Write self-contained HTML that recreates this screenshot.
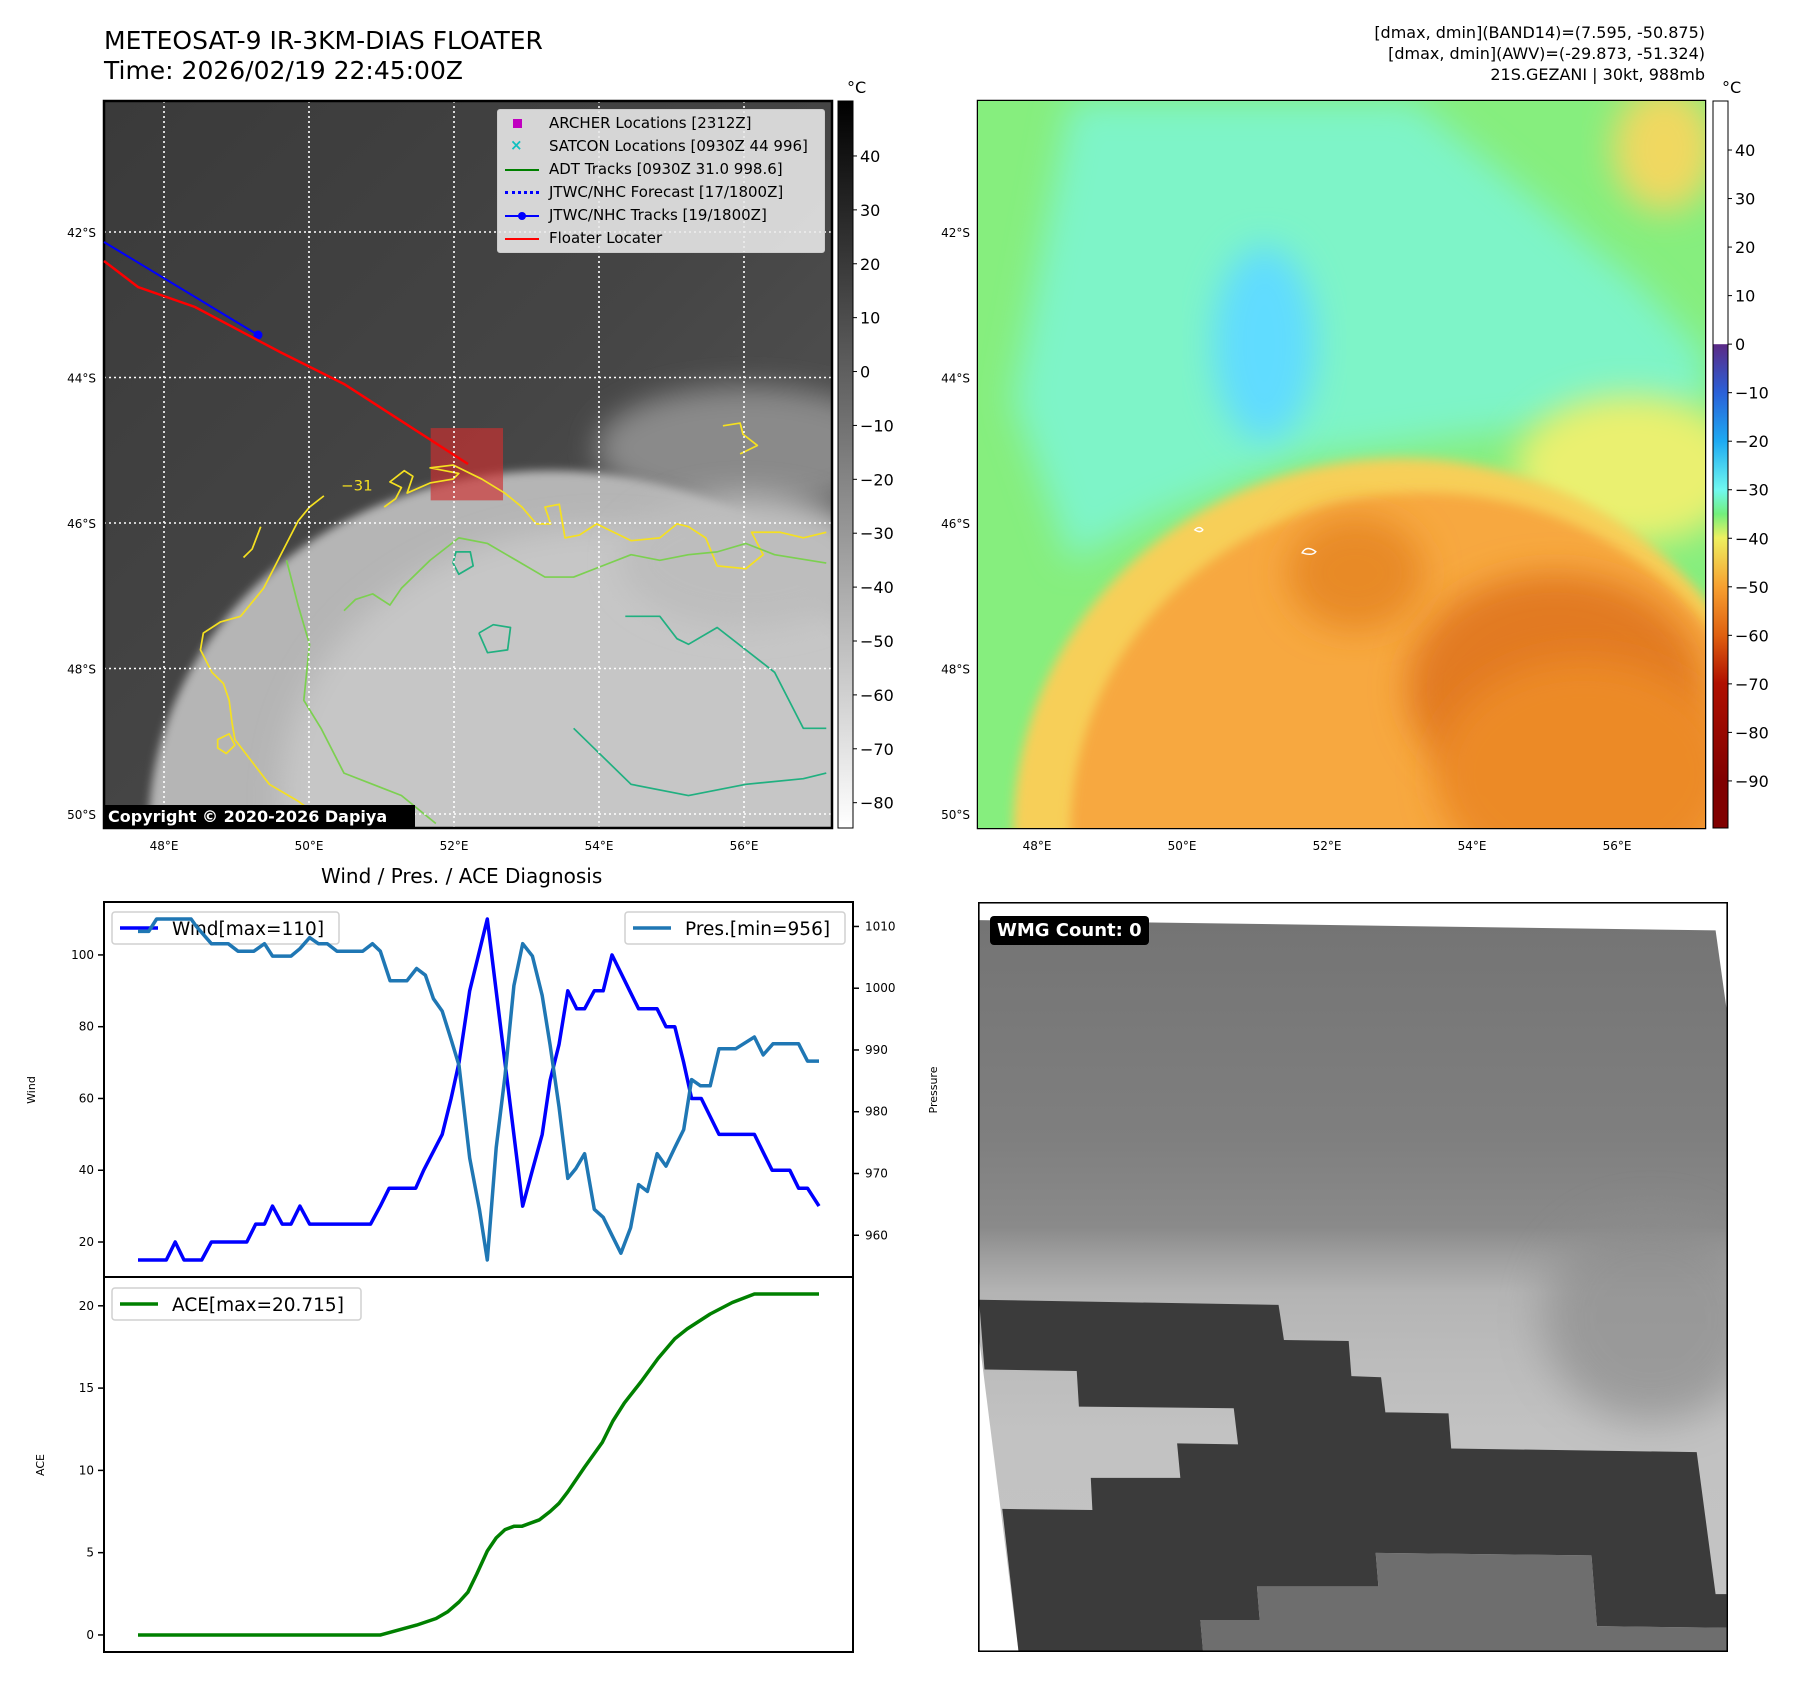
<!DOCTYPE html>
<html><head><meta charset="utf-8">
<style>
body{margin:0;background:#fff;}
#root{position:relative;width:1797px;height:1690px;background:#fff;font-family:"DejaVu Sans","Liberation Sans",sans-serif;overflow:hidden;}
.t{position:absolute;white-space:nowrap;color:#000;}
svg{position:absolute;}
</style></head><body>
<div id="root">
<div class="t" style="left:104px;top:26px;font-size:25px;line-height:30px;">METEOSAT-9 IR-3KM-DIAS FLOATER<br>Time: 2026/02/19 22:45:00Z</div>
<div class="t" style="right:92px;top:22px;font-size:16px;line-height:21px;text-align:right;">[dmax, dmin](BAND14)=(7.595, -50.875)<br>[dmax, dmin](AWV)=(-29.873, -51.324)<br>21S.GEZANI | 30kt, 988mb</div>
<div class="t" style="left:847px;top:78px;font-size:16px;">°C</div>
<div class="t" style="left:1722px;top:78px;font-size:16px;">°C</div>
<div class="t" style="left:321px;top:864px;font-size:20px;">Wind / Pres. / ACE Diagnosis</div>

<!-- Left IR map -->
<svg style="left:104px;top:101px" width="728" height="727" viewBox="182 180 1268 1298" preserveAspectRatio="none">
<defs>
<filter id="b1" x="-30%" y="-30%" width="160%" height="160%"><feGaussianBlur stdDeviation="25"/></filter>
<filter id="b2" x="-30%" y="-30%" width="160%" height="160%"><feGaussianBlur stdDeviation="8"/></filter>
<linearGradient id="irbg" x1="0" y1="0" x2="1" y2="1"><stop offset="0" stop-color="#3a3a3a"/><stop offset="0.5" stop-color="#454545"/><stop offset="1" stop-color="#5a5a5a"/></linearGradient>
</defs>
<rect x="182" y="180" width="1268" height="1298" fill="url(#irbg)"/>
<ellipse cx="1300" cy="800" rx="260" ry="110" fill="#8a8a8a" filter="url(#b1)"/>
<ellipse cx="960" cy="1480" rx="700" ry="640" fill="#b5b5b5" filter="url(#b2)"/>
<ellipse cx="1050" cy="1420" rx="560" ry="480" fill="#c6c6c6" filter="url(#b1)"/>
<ellipse cx="1300" cy="1000" rx="220" ry="120" fill="#bdbdbd" filter="url(#b1)"/>
<rect x="751" y="764" width="126" height="129" fill="#d03030" opacity="0.65"/>
<g fill="none" stroke-width="3" stroke-linejoin="round">
<path stroke="#f5e020" d="M565,885 L540,905 520,930 505,960 490,990 475,1020 460,1050 440,1075 420,1100 385,1110 355,1130 350,1160 370,1200 390,1220 400,1250 405,1290 410,1320 440,1360 470,1400 520,1430 560,1460 580,1478"/>
<path stroke="#f5e020" d="M670,905 L690,890 700,870 680,860 705,840 720,850 710,880 750,862 790,855 800,845 750,835 790,830 840,855 880,880 910,905 935,935 960,935 950,905 975,900 985,960 1010,955 1040,935 1060,945 1100,965 1150,960 1180,935 1200,940 1230,960 1250,1010 1300,1015 1330,990 1310,950 1360,950 1400,960 1440,950"/>
<path stroke="#f5e020" d="M1260,760 L1290,755 1295,775 1320,795 1290,810"/>
<path stroke="#f5e020" d="M455,940 L440,980 425,995"/>
<path stroke="#f5e020" d="M380,1320 L400,1310 410,1330 395,1345 380,1335Z"/>
<path stroke="#7cd050" d="M500,1000 L510,1040 520,1080 540,1150 530,1250 560,1300 600,1380 650,1400 700,1420 760,1470"/>
<path stroke="#7cd050" d="M600,1090 L620,1070 650,1060 680,1080 700,1050 750,1000 800,960 850,970 900,1000 950,1030 1000,1030 1050,1010 1100,990 1150,1000 1200,990 1250,985 1300,970 1350,990 1440,1005"/>
<path stroke="#20b080" d="M1090,1100 L1150,1100 1180,1140 1200,1150 1250,1120 1300,1160 1350,1200 1400,1300 1440,1300"/>
<path stroke="#20b080" d="M1000,1300 L1050,1350 1100,1400 1200,1420 1300,1400 1400,1390 1440,1380"/>
<path stroke="#20b080" d="M835,1130 L860,1115 890,1120 885,1160 850,1165 835,1130"/>
<path stroke="#20b080" d="M795,985 L820,985 825,1010 800,1025 790,1005Z"/>
</g>
<text x="595" y="875" fill="#f5e020" font-size="26" font-family="DejaVu Sans">−31</text>
</svg>
<svg style="left:0;top:0" width="1797" height="1690" id="ov"></svg>

<!-- Right AWV map -->
<svg style="left:978px;top:101px" width="727" height="727" viewBox="138 177 1274 1268" preserveAspectRatio="none">
<defs>
<filter id="c1" x="-30%" y="-30%" width="160%" height="160%"><feGaussianBlur stdDeviation="30"/></filter>
<filter id="c2" x="-30%" y="-30%" width="160%" height="160%"><feGaussianBlur stdDeviation="10"/></filter>
</defs>
<rect x="138" y="177" width="1274" height="1268" fill="#86ee7e"/>
<path d="M300,177 L900,177 1300,500 1412,620 1412,720 1000,760 700,800 450,900 300,980 200,700 Z" fill="#7ef4c8" filter="url(#c1)"/>
<ellipse cx="640" cy="600" rx="90" ry="170" fill="#60dcff" filter="url(#c1)"/>
<ellipse cx="1280" cy="820" rx="200" ry="130" fill="#eaf070" filter="url(#c1)"/>
<ellipse cx="1340" cy="260" rx="90" ry="110" fill="#f0d860" filter="url(#c1)"/>
<ellipse cx="880" cy="1450" rx="680" ry="650" fill="#f7cf58" filter="url(#c2)"/>
<ellipse cx="920" cy="1450" rx="620" ry="590" fill="#f7a840" filter="url(#c2)"/>
<ellipse cx="1150" cy="1200" rx="260" ry="200" fill="#e27a20" filter="url(#c1)"/>
<ellipse cx="800" cy="1000" rx="120" ry="100" fill="#e88a28" filter="url(#c1)"/>
<ellipse cx="1200" cy="1350" rx="260" ry="200" fill="#ec8a28" filter="url(#c1)"/>
<path d="M518,925 q8,-8 14,0 q-4,6 -14,0Z M706,965 q8,-14 24,-2 q-6,8 -24,2Z" fill="none" stroke="#fff" stroke-width="2.5"/>
</svg>

<!-- Bottom right WMG panel -->
<svg style="left:978px;top:902px" width="750" height="750" viewBox="53 45 1390 1452" preserveAspectRatio="none">
<defs><linearGradient id="wg" x1="0" y1="0" x2="0" y2="1">
<stop offset="0" stop-color="#747474"/><stop offset="0.3" stop-color="#7f7f7f"/><stop offset="0.42" stop-color="#8a8a8a"/><stop offset="0.46" stop-color="#9e9e9e"/><stop offset="0.51" stop-color="#b4b4b4"/><stop offset="0.58" stop-color="#bababa"/><stop offset="0.7" stop-color="#c2c2c2"/><stop offset="1" stop-color="#c4c4c4"/></linearGradient>
<filter id="wb" x="-30%" y="-30%" width="160%" height="160%"><feGaussianBlur stdDeviation="40"/></filter></defs>
<rect x="53" y="45" width="1390" height="1452" fill="#fff"/>
<path d="M55,80 L1420,100 1440,250 1440,1495 128,1495 55,890 Z" fill="url(#wg)"/>
<ellipse cx="1300" cy="850" rx="200" ry="200" fill="#8c8c8c" filter="url(#wb)" opacity="0.7"/>
<path d="M55,815 L610,825 620,893 740,895 745,963 800,965 808,1033 925,1035 930,1103 1385,1110 1420,1385 1440,1385 1440,1450 1200,1447 1190,1310 790,1305 795,1370 570,1370 575,1435 465,1435 470,1495 128,1495 98,1220 265,1222 262,1160 428,1160 422,1093 535,1095 527,1025 240,1022 236,953 65,950 Z" fill="#3b3b3b"/>
<path d="M465,1435 L575,1435 570,1370 795,1370 790,1305 1190,1310 1200,1447 1440,1450 1440,1495 470,1495Z" fill="#6e6e6e"/>
<rect x="54" y="46" width="1388" height="1450" fill="none" stroke="#000" stroke-width="4"/>
</svg>
<div class="t" style="left:990px;top:916px;background:#000;color:#fff;font-weight:bold;font-size:18px;padding:4px 7px;border-radius:4px;">WMG Count: 0</div>

<div class="t" style="left:104px;top:805px;width:311px;height:23px;background:#000;color:#fff;font-weight:bold;font-size:16px;line-height:23px;padding-left:4px;box-sizing:border-box;">Copyright © 2020-2026 Dapiya</div>

<div style="position:absolute;left:497px;top:109px;width:326px;height:142px;background:rgba(235,235,235,0.88);border:1px solid #ccc;border-radius:3px;font-size:15px;">
<div class="t" style="left:51px;top:4px"><span style="position:absolute;left:-36px;top:5px;width:9px;height:9px;background:#c000c0"></span>ARCHER Locations [2312Z]</div>
<div class="t" style="left:51px;top:27px"><span style="position:absolute;left:-39px;top:-1px;color:#10c0c0;font-weight:bold">×</span>SATCON Locations [0930Z 44 996]</div>
<div class="t" style="left:51px;top:50px"><span style="position:absolute;left:-44px;top:9px;width:34px;height:2px;background:#008000"></span>ADT Tracks [0930Z 31.0 998.6]</div>
<div class="t" style="left:51px;top:73px"><span style="position:absolute;left:-44px;top:8px;width:34px;border-top:3px dotted #0000ff"></span>JTWC/NHC Forecast [17/1800Z]</div>
<div class="t" style="left:51px;top:96px"><span style="position:absolute;left:-44px;top:9px;width:34px;height:2px;background:#0000ff"></span><span style="position:absolute;left:-31px;top:6px;width:8px;height:8px;border-radius:4px;background:#0000ff"></span>JTWC/NHC Tracks [19/1800Z]</div>
<div class="t" style="left:51px;top:119px"><span style="position:absolute;left:-44px;top:9px;width:34px;height:2px;background:#ff0000"></span>Floater Locater</div>
</div>

<svg id="chart" style="left:0;top:0" width="1797" height="1690"></svg>
</div>
<script>
// ---------- chart data ----------
const windT=[0,3.2,4.2,5.2,7.2,8.3,12.3,13.3,14.3,15.2,16.3,17.3,18.3,19.4,26.3,27.4,28.4,31.4,32.3,34.4,35.4,36.3,37.5,39.5,41.5,43.5,44.6,45.7,46.6,47.6,48.6,49.6,50.5,51.6,52.6,53.6,54.6,55.6,56.6,58.7,59.7,60.7,61.7,62.6,63.7,65.7,69.7,70.7,71.7,73.7,74.7,75.7,77];
const windV=[15,15,20,15,15,20,20,25,25,30,25,25,30,25,25,30,35,35,40,50,60,70,90,110,70,30,40,50,65,75,90,85,85,90,90,100,95,90,85,85,80,80,70,60,60,50,50,45,40,40,35,35,30];
const presT=[0,1.2,2.1,6,6.6,8.3,10.2,11.3,13.1,14.3,15.2,17.3,18.3,19.4,20.4,21.4,22.5,25.4,26.5,27.4,28.5,30.4,31.5,32.5,33.4,34.4,35.4,36.3,37.5,38.6,39.5,40.5,41.5,42.5,43.5,44.6,45.7,46.6,47.6,48.6,49.5,50.5,51.6,52.6,53.6,54.6,55.7,56.6,57.6,58.7,59.7,60.7,61.7,62.6,63.6,64.7,65.7,67.6,69.7,70.7,71.8,74.7,75.7,77];
const presV=[1009.2,1009.2,1011.2,1011.2,1010,1007.2,1007.2,1006,1006,1007.2,1005.2,1005.2,1006.4,1008.2,1007.2,1007.2,1006,1006,1007.2,1006,1001.2,1001.2,1003.2,1002.1,998.3,996.3,991.7,987.5,972.5,964.2,956,974.2,985.8,1000.4,1007.2,1005.2,998.8,990.8,980.8,969.2,970.8,973.2,964.2,962.9,960,957.1,961.2,968.2,967.1,973.2,971.2,974.2,977.1,985.2,984.2,984.2,990.2,990.2,992.1,989.2,991,991,988.2,988.2];
const aceT=[0,27.4,31.5,33.7,35,36.3,37.3,38.3,39.5,40.5,41.5,42.5,43.4,45.4,46.6,47.6,48.6,50.5,52.5,53.7,55,56.9,58.8,60.7,62.1,64.7,67.2,69.7,77];
const aceV=[0,0,0.6,1.0,1.4,2,2.6,3.7,5.1,5.9,6.4,6.6,6.6,7.0,7.5,8.0,8.7,10.2,11.7,13.0,14.1,15.4,16.8,18.0,18.6,19.5,20.2,20.715,20.715];
const windTicks=[20,40,60,80,100];
const presTicks=[960,970,980,990,1000,1010];
const aceTicks=[0,5,10,15,20];
const lonTicks=["48°E","50°E","52°E","54°E","56°E"];
const latTicks=["42°S","44°S","46°S","48°S","50°S"];
const irCbTicks=[40,30,20,10,0,-10,-20,-30,-40,-50,-60,-70,-80];
const awvCbTicks=[40,30,20,10,0,-10,-20,-30,-40,-50,-60,-70,-80,-90];

const NS="http://www.w3.org/2000/svg";
function mk(p,tag,at){const e=document.createElementNS(NS,tag);for(const k in at)e.setAttribute(k,at[k]);p.appendChild(e);return e;}
function txt(p,x,y,s,size,anchor,extra){const e=mk(p,'text',Object.assign({x:x,y:y,'font-size':size,'text-anchor':anchor||'start','font-family':'DejaVu Sans, Liberation Sans, sans-serif'},extra||{}));e.textContent=s;return e;}
const ch=document.getElementById('chart');
const L=104,R=853,T=902,M=1277,B=1652;
function ext(a){let mn=Math.min(...a),mx=Math.max(...a),r=mx-mn;return [mn-0.05*r,mx+0.05*r];}
const xr=ext(windT.concat(presT));
function X(t){return L+(t-xr[0])/(xr[1]-xr[0])*(R-L);}
const wr=ext(windV),pr=ext(presV),ar=ext(aceV);
function YW(v){return M-(v-wr[0])/(wr[1]-wr[0])*(M-T);}
function YP(v){return M-(v-pr[0])/(pr[1]-pr[0])*(M-T);}
function YA(v){return B-(v-ar[0])/(ar[1]-ar[0])*(B-M);}
function line(ts,vs,fy,color,name){const d=ts.map((t,i)=>(i?'L':'M')+X(t).toFixed(1)+','+fy(vs[i]).toFixed(1)).join(' ');
 const p=mk(ch,'path',{d:d,fill:'none',stroke:color,'stroke-width':3.5,'stroke-linejoin':'round'});
 
 }
function legend(x,y,w,label,color,name){const g=mk(ch,'g',{});
 
 
 mk(g,'rect',{x:x,y:y,width:w,height:32,rx:3,fill:'rgba(255,255,255,0.85)',stroke:'#d0d0d0','stroke-width':1.5});
 mk(g,'line',{x1:x+8,x2:x+46,y1:y+16,y2:y+16,stroke:color,'stroke-width':3.5});
 txt(g,x+60,y+23,label,18.5,'start');}
line(windT,windV,YW,'#0000ff','wind-line');
legend(112,912,227,'Wind[max=110]','#0000ff','wind-legend');
line(presT,presV,YP,'#1f77b4','pressure-line');
legend(625,912,220,'Pres.[min=956]','#1f77b4','pressure-legend');
line(aceT,aceV,YA,'#008000','ace-line');
legend(112,1288,249,'ACE[max=20.715]','#008000','ace-legend');
mk(ch,'rect',{x:L,y:T,width:R-L,height:M-T,fill:'none',stroke:'#000','stroke-width':2});
mk(ch,'rect',{x:L,y:M,width:R-L,height:B-M,fill:'none',stroke:'#000','stroke-width':2});
windTicks.forEach(v=>{const y=YW(v);mk(ch,'line',{x1:L-6,x2:L,y1:y,y2:y,stroke:'#000','stroke-width':1.5});const t=txt(ch,L-10,y+4,String(v),12,'end');
 
 });
presTicks.forEach(v=>{const y=YP(v);mk(ch,'line',{x1:R,x2:R+6,y1:y,y2:y,stroke:'#000','stroke-width':1.5});const t=txt(ch,R+12,y+4,String(v),12,'start');
 
 });
aceTicks.forEach(v=>{const y=YA(v);mk(ch,'line',{x1:L-6,x2:L,y1:y,y2:y,stroke:'#000','stroke-width':1.5});const t=txt(ch,L-10,y+4,String(v),12,'end');
 
 });
let yl=txt(ch,0,0,'Wind',11,'middle',{transform:'translate(35,1090) rotate(-90)'});

yl=txt(ch,0,0,'Pressure',11,'middle',{transform:'translate(937,1090) rotate(-90)'});

yl=txt(ch,0,0,'ACE',11,'middle',{transform:'translate(44,1465) rotate(-90)'});


// ---------- map overlays: grids, ticks, tracks, colorbars ----------
const ov=document.getElementById('ov');
const lonPx0=164,lonStep=145,latPx0=232,latStep=145.5;
function mapGrid(x0,x1,y0,y1,offset){
 lonTicks.forEach((s,i)=>{const x=lonPx0+offset+i*lonStep;mk(ov,'line',{x1:x,x2:x,y1:y0,y2:y1,stroke:'#fff','stroke-width':1.6,'stroke-dasharray':'2,3'});const t=txt(ov,x,850,s,12,'middle');
 
 });
 latTicks.forEach((s,i)=>{const y=latPx0+i*latStep;mk(ov,'line',{x1:x0,x2:x1,y1:y,y2:y,stroke:'#fff','stroke-width':1.6,'stroke-dasharray':'2,3'});const t=txt(ov,x0-8,y+5,s,12,'end');
 
 });
 mk(ov,'rect',{x:x0,y:y0,width:x1-x0,height:y1-y0,fill:'none',stroke:'#000','stroke-width':2.5});
}
mapGrid(104,832,101,828,0);
mapGrid(978,1705,101,828,873);
let p=mk(ov,'polyline',{points:'104,242 258,335',fill:'none',stroke:'#0000ff','stroke-width':2});

mk(ov,'circle',{cx:258,cy:335,r:4.5,fill:'#0000ff'});
p=mk(ov,'polyline',{points:'104,261 138,287 195,307 280,352 344,384 468,464',fill:'none',stroke:'#ff0000','stroke-width':2.5});

const defs=mk(ov,'defs',{});
const g1=mk(defs,'linearGradient',{id:'cbg',x1:0,y1:0,x2:0,y2:1});
mk(g1,'stop',{offset:0,'stop-color':'#000'});mk(g1,'stop',{offset:1,'stop-color':'#fff'});
const g2=mk(defs,'linearGradient',{id:'cba',x1:0,y1:0,x2:0,y2:1});
[[0,'#fff'],[0.334,'#fff'],[0.335,'#5b2a86'],[0.401,'#2a60d8'],[0.468,'#1eaaf2'],[0.535,'#70f8f0'],[0.568,'#72ef7c'],[0.601,'#eef060'],[0.668,'#f7a030'],[0.735,'#df6010'],[0.801,'#b01000'],[0.935,'#800000'],[1,'#800000']].forEach(s=>mk(g2,'stop',{offset:s[0],'stop-color':s[1]}));
let cb=mk(ov,'rect',{x:838,y:101,width:15,height:727,fill:'url(#cbg)',stroke:'#000','stroke-width':1});

cb=mk(ov,'rect',{x:1713,y:101,width:15,height:727,fill:'url(#cba)',stroke:'#000','stroke-width':1});

const irTop=50.2,irBot=-84.7,awTop=50.1,awBot=-99.7;
irCbTicks.forEach(v=>{const y=101+(irTop-v)/(irTop-irBot)*727;mk(ov,'line',{x1:853,x2:857,y1:y,y2:y,stroke:'#000'});const t=txt(ov,860,y+6,String(v).replace('-','−'),16,'start');
 
 });
awvCbTicks.forEach(v=>{const y=101+(awTop-v)/(awTop-awBot)*727;mk(ov,'line',{x1:1728,x2:1732,y1:y,y2:y,stroke:'#000'});const t=txt(ov,1735,y+6,String(v).replace('-','−'),16,'start');
 
 });
</script>
</body></html>
